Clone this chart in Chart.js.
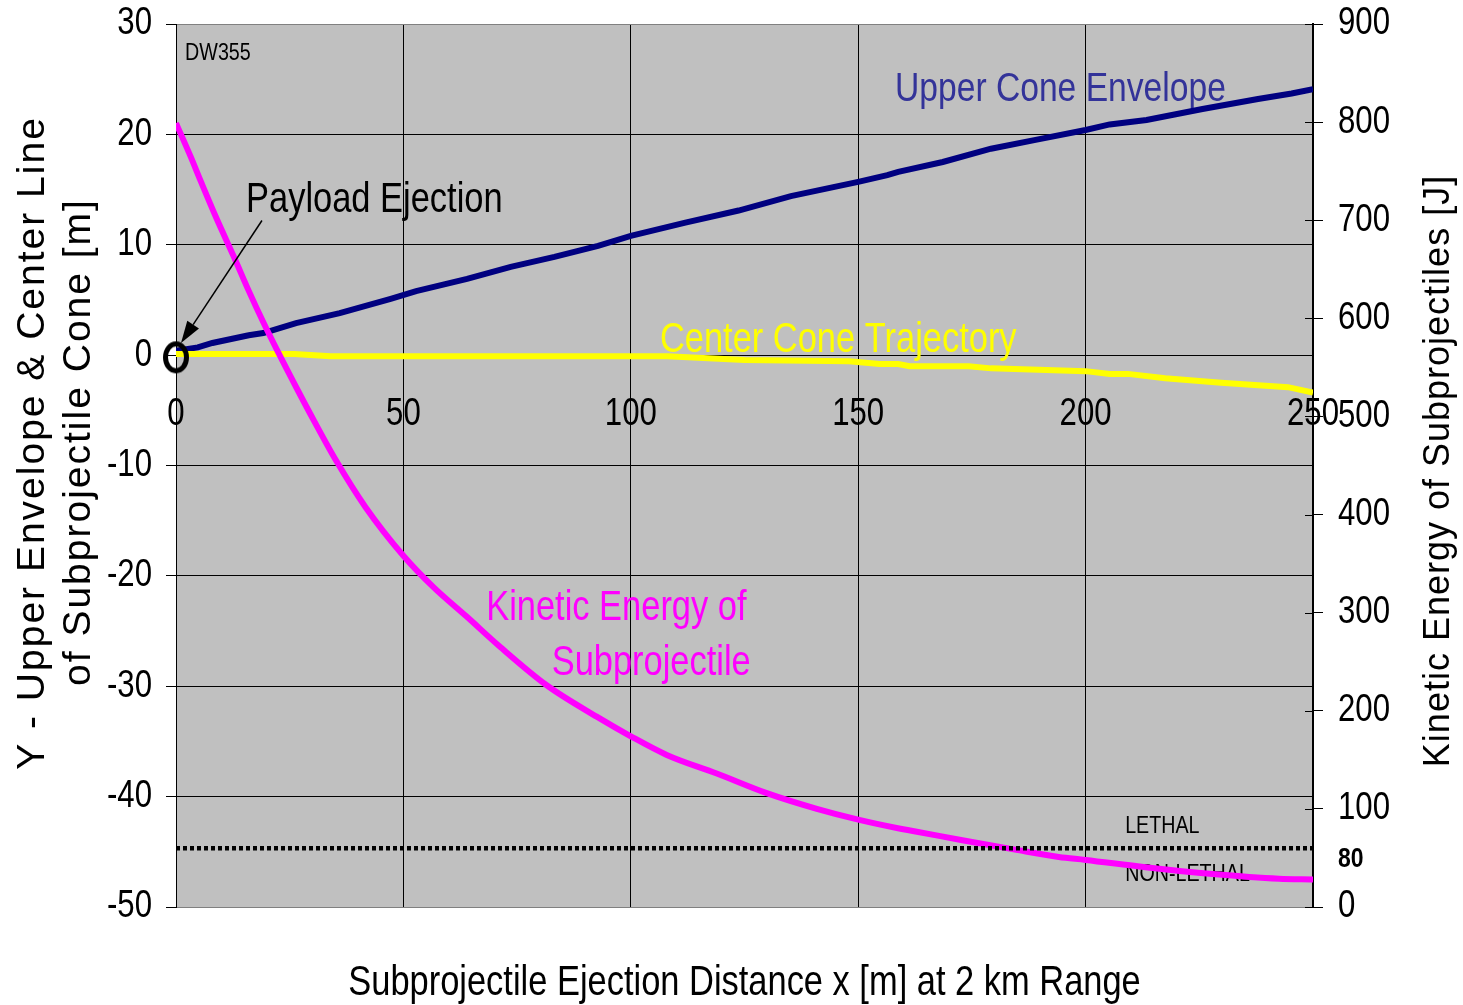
<!DOCTYPE html>
<html>
<head>
    <meta charset="utf-8">
    <title>Subprojectile cone and kinetic energy</title>
    <script src="https://cdn.jsdelivr.net/npm/chart.js@4.4.0/dist/chart.umd.min.js"></script>
    <style>
        body { margin: 0; background: #fff; }
        #wrap { width: 1463px; height: 1005px; }
    </style>
</head>
<body>
<div id="wrap"><canvas id="myChart"></canvas></div>

<script>
    const FONT = "'Liberation Sans', Arial, sans-serif";
    const SQUEEZE = 0.82; // no narrow face installed, so squeeze the regular one

    // upper cone envelope, y [m] vs x [m]
    const envX = [0, 4.8, 8, 16, 19.2, 26.4, 36, 47.2, 52.8, 64, 73.6, 83.2, 92.8, 100, 112, 123.7, 135.2, 150, 156.4, 158.8, 168.6, 179.2, 189, 200, 205.3, 213.4, 225.7, 237.9, 245.3, 250];
    const envY = [0.4, 0.7, 1.1, 1.8, 2.0, 2.9, 3.8, 5.1, 5.8, 6.9, 8.0, 8.9, 9.9, 10.8, 12.0, 13.1, 14.4, 15.7, 16.3, 16.6, 17.5, 18.7, 19.5, 20.4, 20.9, 21.3, 22.3, 23.2, 23.7, 24.1];

    // center cone trajectory
    const centerX = [0, 26, 34, 108, 125, 148, 154.7, 158.8, 161.3, 174.3, 179.2, 200, 205.3, 209.3, 217.5, 229.8, 244.5, 250];
    const centerY = [0.1, 0.1, -0.1, -0.1, -0.45, -0.55, -0.8, -0.8, -1.0, -1.0, -1.2, -1.45, -1.7, -1.7, -2.1, -2.5, -2.9, -3.4];

    // kinetic energy of subprojectile [J] (right axis)
    const keX = [0, 3.2, 5.6, 8.8, 12.8, 16, 19.2, 22.4, 26.4, 29.6, 35.2, 41.6, 50, 56.6, 63.9, 71.3, 81.5, 92.5, 100, 107.9, 118.9, 129.9, 140.9, 150, 159, 162.6, 172.9, 183.9, 194.1, 200, 213.2, 227.9, 242.5, 250];
    const keY = [799, 765, 738, 703, 662, 628, 596, 566, 530, 502, 455, 408, 358, 326, 296, 265, 226, 194, 174, 155, 136, 116, 100, 89, 80, 77, 68, 59, 51, 48, 40.5, 33.6, 28.8, 28];

    // lethal / non-lethal threshold (right axis)
    const lethalX = [0, 250];
    const lethalY = [60, 60];

    // payload ejection point
    const ejectX = [0];
    const ejectY = [-0.2];

    const xTicks = [0, 50, 100, 150, 200, 250];
    const yTicks = [30, 20, 10, 0, -10, -20, -30, -40, -50];
    const y2Ticks = [900, 800, 700, 600, 500, 400, 300, 200, 100, 0];

    const zipXY = (xs, ys) => xs.map((v, i) => ({x: v, y: ys[i]}));

    // texts placed in data units of x / left y
    const notes = [
        {text: 'Upper Cone Envelope', x: 158.1, y: 23.0, color: '#333399', size: 41},
        {text: 'Center Cone Trajectory', x: 106.4, y: 0.3, color: '#ffff00', size: 42},
        {text: 'Kinetic Energy of', x: 68.2, y: -24.0, color: '#ff00ff', size: 42},
        {text: 'Subprojectile', x: 82.6, y: -29.0, color: '#ff00ff', size: 42},
        {text: 'Payload Ejection', x: 15.4, y: 13.0, color: '#000', size: 42},
        {text: 'DW355', x: 2.0, y: 26.7, color: '#000', size: 24},
        {text: 'LETHAL', x: 208.7, y: -43.3, color: '#000', size: 24},
        {text: 'NON-LETHAL', x: 208.7, y: -47.6, color: '#000', size: 24}
    ];

    function narrow(ctx, text, x, y, align, baseline) {
        ctx.save();
        ctx.translate(x, y);
        ctx.scale(SQUEEZE, 1);
        ctx.textAlign = align;
        ctx.textBaseline = baseline;
        ctx.fillText(text, 0, 0);
        ctx.restore();
    }

    // open ring used as the ejection marker
    const ring = document.createElement('canvas');
    ring.width = 30;
    ring.height = 36;
    const rc = ring.getContext('2d');
    rc.lineWidth = 5;
    rc.strokeStyle = '#000';
    rc.beginPath();
    rc.ellipse(15, 18, 10.5, 13.5, 0, 0, Math.PI * 2);
    rc.stroke();

    const decor = {
        id: 'decor',
        beforeDraw(chart) {
            const {ctx, chartArea: a} = chart;
            ctx.save();
            ctx.fillStyle = '#c0c0c0';
            ctx.fillRect(a.left, a.top, a.right - a.left, a.bottom - a.top);
            ctx.restore();
        },
        beforeDatasetsDraw(chart) {
            const {ctx, scales: {x, y}} = chart;
            notes.forEach(n => {
                ctx.font = n.size + 'px ' + FONT;
                ctx.fillStyle = n.color;
                narrow(ctx, n.text, x.getPixelForValue(n.x), y.getPixelForValue(n.y), 'left', 'alphabetic');
            });
        },
        afterDraw(chart) {
            const {ctx, chartArea: a, scales: {x, y, y2}} = chart;
            ctx.save();

            // tick labels, squeezed like Arial Narrow
            ctx.fillStyle = '#000';
            ctx.font = '38px ' + FONT;
            const y0 = y.getPixelForValue(0);
            x.ticks.forEach(t => narrow(ctx, String(t.value), x.getPixelForValue(t.value), y0 + 59, 'center', 'middle'));
            y.ticks.forEach(t => narrow(ctx, String(t.value), a.left - 24, y.getPixelForValue(t.value), 'right', 'middle'));
            y2.ticks.forEach(t => narrow(ctx, String(t.value), a.right + 25, y2.getPixelForValue(t.value), 'left', 'middle'));

            // inner half of the right axis tick marks
            ctx.strokeStyle = '#000';
            ctx.lineWidth = 1;
            y2.ticks.forEach(t => {
                const py = Math.round(y2.getPixelForValue(t.value)) + 0.5;
                ctx.beginPath();
                ctx.moveTo(a.right - 8, py);
                ctx.lineTo(a.right, py);
                ctx.stroke();
            });

            // arrow to the ejection point
            const ax0 = x.getPixelForValue(18.9), ay0 = y.getPixelForValue(12.2);
            const ax1 = x.getPixelForValue(1.1), ay1 = y.getPixelForValue(1.1);
            const ang = Math.atan2(ay1 - ay0, ax1 - ax0);
            const hl = 22, hw = 7;
            const cs = Math.cos(ang), sn = Math.sin(ang);
            ctx.lineWidth = 1.5;
            ctx.beginPath();
            ctx.moveTo(ax0, ay0);
            ctx.lineTo(ax1 - cs * hl, ay1 - sn * hl);
            ctx.stroke();
            ctx.beginPath();
            ctx.moveTo(ax1, ay1);
            ctx.lineTo(ax1 - cs * hl - sn * hw, ay1 - sn * hl + cs * hw);
            ctx.lineTo(ax1 - cs * hl + sn * hw, ay1 - sn * hl - cs * hw);
            ctx.closePath();
            ctx.fill();

            // threshold value next to the right axis
            ctx.font = 'bold 28px ' + FONT;
            narrow(ctx, '80', a.right + 25, y2.getPixelForValue(40.3), 'left', 'alphabetic');

            // axis titles
            ctx.font = '42px ' + FONT;
            narrow(ctx, 'Subprojectile Ejection Distance x [m] at 2 km Range', (a.left + a.right) / 2, 995, 'center', 'alphabetic');

            ctx.textAlign = 'center';
            ctx.textBaseline = 'alphabetic';
            ctx.font = '39px ' + FONT;
            ctx.letterSpacing = '2px';
            ctx.save();
            ctx.translate(44, 443);
            ctx.rotate(-Math.PI / 2);
            ctx.fillText('Y - Upper Envelope & Center Line', 0, 0);
            ctx.restore();
            ctx.save();
            ctx.translate(90, 442);
            ctx.rotate(-Math.PI / 2);
            ctx.fillText('of Subprojectile Cone [m]', 0, 0);
            ctx.restore();

            ctx.font = '36px ' + FONT;
            ctx.letterSpacing = '1px';
            ctx.translate(1449, 471);
            ctx.rotate(-Math.PI / 2);
            ctx.fillText('Kinetic Energy of Subprojectiles [J]', 0, 0);
            ctx.restore();
        }
    };

    new Chart('myChart', {
        type: 'line',
        data: {
            datasets: [
                {data: zipXY(lethalX, lethalY), yAxisID: 'y2', borderColor: '#000', borderWidth: 4.5, borderDash: [4, 3], pointRadius: 0, order: 0},
                {data: zipXY(ejectX, ejectY), yAxisID: 'y', showLine: false, pointStyle: ring, pointRadius: 15, clip: false, order: 1},
                {data: zipXY(keX, keY), yAxisID: 'y2', borderColor: '#ff00ff', borderWidth: 6, pointRadius: 0, cubicInterpolationMode: 'monotone', order: 2},
                {data: zipXY(centerX, centerY), yAxisID: 'y', borderColor: '#ffff00', borderWidth: 6, pointRadius: 0, order: 3},
                {data: zipXY(envX, envY), yAxisID: 'y', borderColor: '#000080', borderWidth: 6, pointRadius: 0, order: 4}
            ]
        },
        options: {
            responsive: true,
            maintainAspectRatio: false,
            animation: false,
            events: [],
            layout: {padding: {left: 0, right: 0, top: 24, bottom: 98}},
            plugins: {legend: {display: false}, tooltip: {enabled: false}},
            scales: {
                x: {
                    type: 'linear',
                    position: {y: 0},
                    min: 0,
                    max: 250,
                    afterBuildTicks: s => { s.ticks = xTicks.map(v => ({value: v})); },
                    grid: {color: '#000', lineWidth: 1, drawTicks: false},
                    border: {display: false},
                    ticks: {display: false}
                },
                y: {
                    position: 'left',
                    min: -50,
                    max: 30,
                    afterBuildTicks: s => { s.ticks = yTicks.map(v => ({value: v})); },
                    afterFit: s => { s.width = 176; s.paddingTop = 0; s.paddingBottom = 0; },
                    grid: {
                        color: c => (c.tick && (c.tick.value === 30 || c.tick.value === -50)) ? '#808080' : '#000',
                        tickColor: '#000',
                        tickLength: 10,
                        lineWidth: 1
                    },
                    border: {color: '#000', width: 1},
                    ticks: {display: false}
                },
                y2: {
                    position: 'right',
                    min: 0,
                    max: 900,
                    afterBuildTicks: s => { s.ticks = y2Ticks.map(v => ({value: v})); },
                    afterFit: s => { s.width = 150; s.paddingTop = 0; s.paddingBottom = 0; },
                    grid: {drawOnChartArea: false, tickColor: '#000', tickLength: 10},
                    border: {color: '#000', width: 2},
                    ticks: {display: false}
                }
            }
        },
        plugins: [decor]
    });
</script>
</body>
</html>
